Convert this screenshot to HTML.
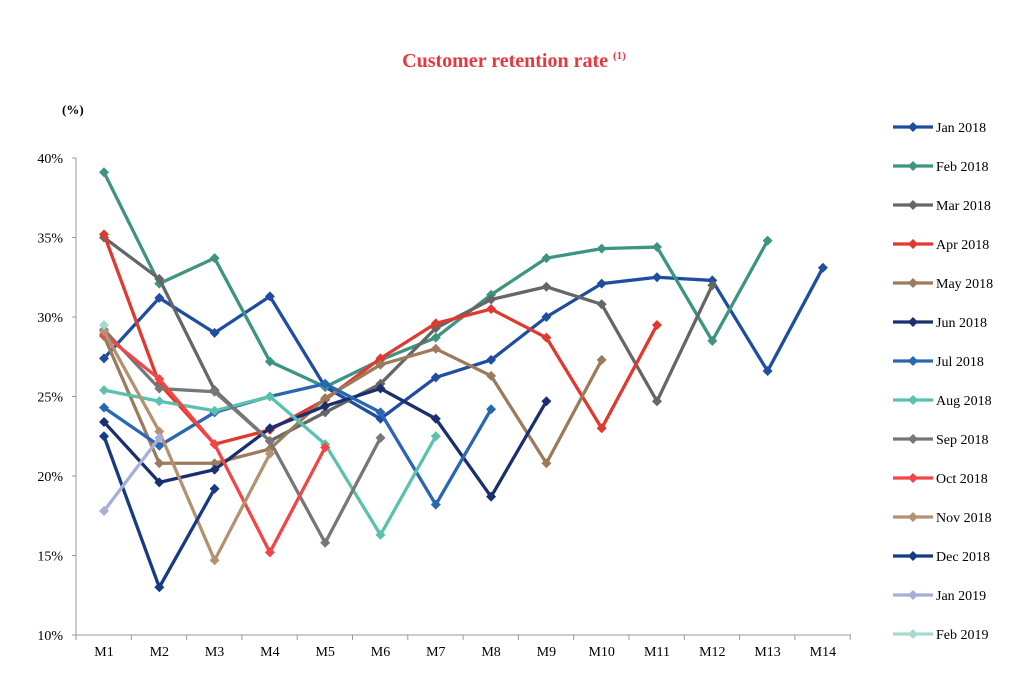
<!DOCTYPE html>
<html><head><meta charset="utf-8"><style>
body{margin:0;background:#fff;width:1028px;height:686px;overflow:hidden}
svg text{font-family:"Liberation Serif",serif}
</style></head><body>
<svg id="s" width="1028" height="686" xmlns="http://www.w3.org/2000/svg">
<text x="514" y="67" text-anchor="middle" font-size="20" font-weight="bold" fill="#e8373d">Customer retention rate <tspan font-size="11" dy="-8">(1)</tspan></text>
<text x="62" y="114" font-size="13" font-weight="bold">(%)</text>
</svg>
<script>
var s=document.getElementById('s'),NS='http://www.w3.org/2000/svg';
function el(t,a,txt){var e=document.createElementNS(NS,t);for(var k in a)e.setAttribute(k,a[k]);if(txt)e.textContent=txt;s.appendChild(e);return e;}
function Y(v){return 635-(v-10)*15.9;}
function X(i){return 104+i*55.3;}
el('line',{x1:76,y1:158,x2:76,y2:635,stroke:'#999','stroke-width':1});
el('line',{x1:76,y1:635,x2:851,y2:635,stroke:'#999','stroke-width':1});
[10,15,20,25,30,35,40].forEach(function(v){el('line',{x1:72,y1:Y(v),x2:76,y2:Y(v),stroke:'#999'});el('text',{x:63,y:Y(v)+5,'font-size':14,'text-anchor':'end'},v+'%');});
for(var i=0;i<=14;i++){var xx=76+i*55.3;el('line',{x1:xx,y1:635,x2:xx,y2:640,stroke:'#999'});}
for(var i=0;i<14;i++)el('text',{x:X(i),y:656,'font-size':14,'text-anchor':'middle'},'M'+(i+1));
var S=[
['Jan 2018','#1f4ea0',[27.4,31.2,29,31.3,25.6,23.6,26.2,27.3,30,32.1,32.5,32.3,26.6,33.1]],
['Feb 2018','#3d9480',[39.1,32.1,33.7,27.2,25.6,27.3,28.7,31.4,33.7,34.3,34.4,28.5,34.8]],
['Mar 2018','#666666',[35,32.4,25.4,22.2,24,25.8,29.3,31.1,31.9,30.8,24.7,32]],
['Apr 2018','#e0392f',[35.2,25.8,22,22.9,24.8,27.4,29.6,30.5,28.7,23,29.5]],
['May 2018','#9c7b5c',[28.8,20.8,20.8,21.7,24.9,27,28,26.3,20.8,27.3]],
['Jun 2018','#1b2f6e',[23.4,19.6,20.4,23,24.4,25.5,23.6,18.7,24.7]],
['Jul 2018','#2a67b3',[24.3,21.9,24,25,25.8,24,18.2,24.2]],
['Aug 2018','#5cc0ae',[25.4,24.7,24.1,25,22,16.3,22.5]],
['Sep 2018','#777777',[29.2,25.5,25.3,22.2,15.8,22.4]],
['Oct 2018','#f24646',[28.9,26.1,22,15.2,21.8]],
['Nov 2018','#b39272',[29.1,22.8,14.7,21.4]],
['Dec 2018','#163b82',[22.5,13,19.2]],
['Jan 2019','#aaadd8',[17.8,22.4]],
['Feb 2019','#a8d9cf',[29.5]]];
S.forEach(function(r,k){
 var p=r[2].map(function(v,i){return X(i)+','+Y(v);}).join(' ');
 el('polyline',{points:p,fill:'none',stroke:r[1],'stroke-width':3.3,'stroke-linejoin':'round'});
 r[2].forEach(function(v,i){var x=X(i),y=Y(v);el('polygon',{points:(x-5)+','+y+' '+x+','+(y-5)+' '+(x+5)+','+y+' '+x+','+(y+5),fill:r[1]});});
 var ly=127+k*39;
 el('line',{x1:893,y1:ly,x2:933,y2:ly,stroke:r[1],'stroke-width':3.3});
 el('polygon',{points:'908,'+ly+' 913,'+(ly-5)+' 918,'+ly+' 913,'+(ly+5),fill:r[1]});
 el('text',{x:936,y:ly+5,'font-size':14},r[0]);
});
</script>
</body></html>
